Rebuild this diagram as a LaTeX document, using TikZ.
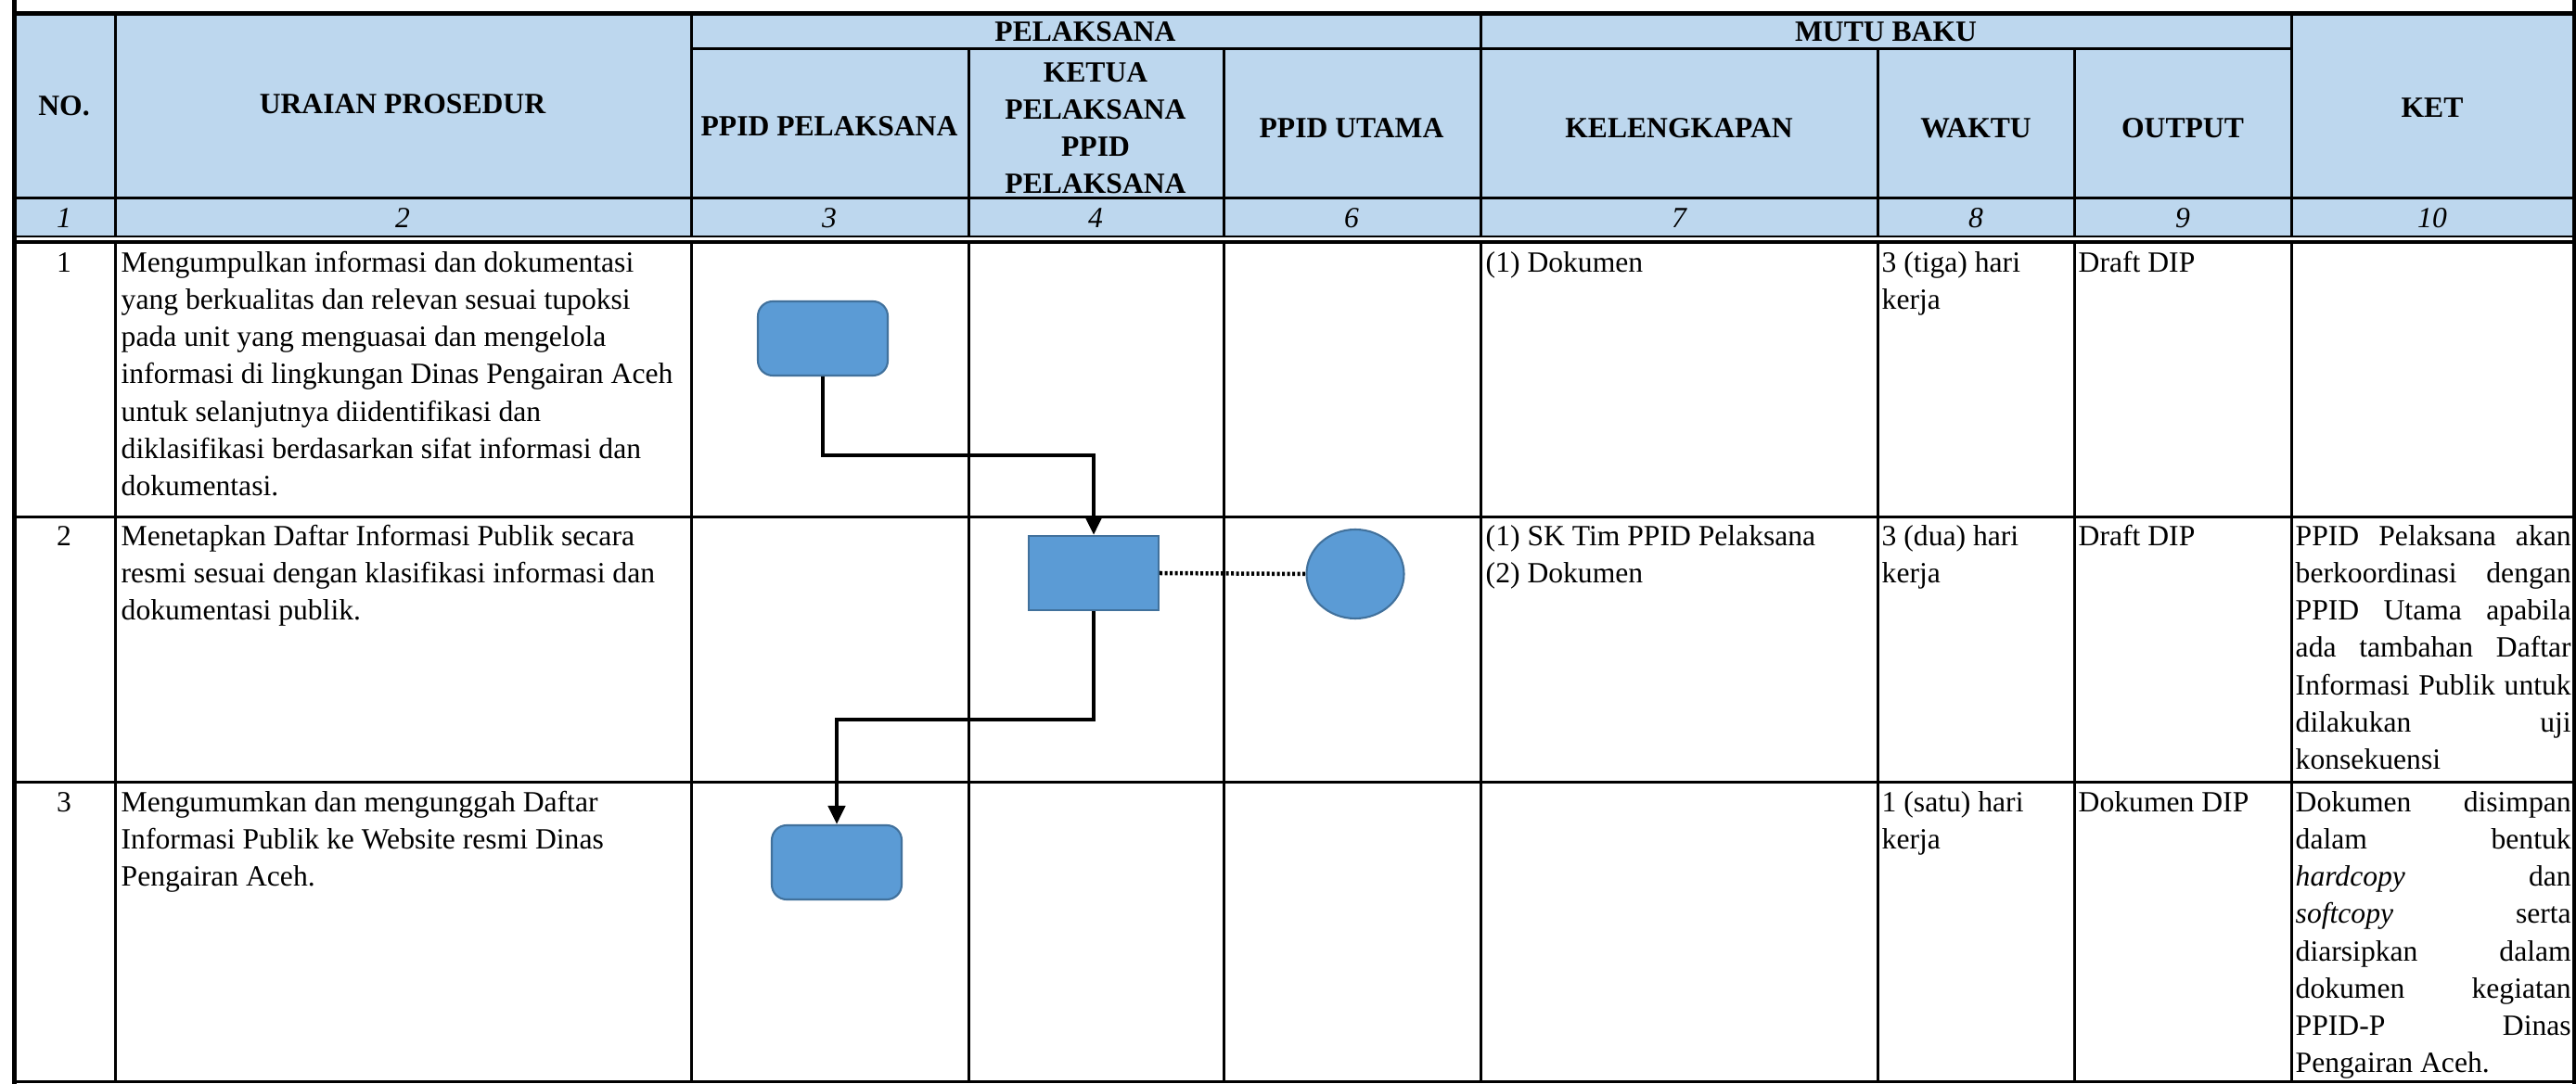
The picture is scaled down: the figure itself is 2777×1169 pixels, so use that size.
\documentclass[tikz,border=0pt]{standalone}
\usepackage{fontspec}
\setmainfont{Liberation Serif}
\usetikzlibrary{arrows.meta,shapes.geometric}

\definecolor{headblue}{HTML}{BDD7EE}
\definecolor{shapeblue}{HTML}{5B9BD5}
\definecolor{shapeedge}{HTML}{41719C}

\newcommand{\ketline}[1]{\makebox[29.7mm][s]{#1}}

\begin{document}
\begin{tikzpicture}[x = 0.1mm, y = -0.1mm,
    every node/.style = {font = \fontsize{9pt}{11.4pt}\selectfont, inner sep = 0pt},
    head/.style = {align = center, font = \fontsize{9pt}{11.4pt}\selectfont\bfseries},
    colnum/.style = {font = \fontsize{9pt}{11.4pt}\selectfont\itshape},
    cell/.style = {anchor = north west, align = left},
    num/.style = {anchor = north},
    grid/.style = {line width = 0.3mm},
    border/.style = {line width = 0.5mm},
    task/.style = {draw = shapeedge, fill = shapeblue, line width = 0.6pt, minimum width = 14mm, minimum height = 8mm},
    flow/.style = {line width = 0.45mm, -{Triangle[length = 2mm, width = 1.8mm]}}]
    \useasboundingbox (0, 0) rectangle (2777, 1169);
    \fill[headblue] (15, 15) rectangle (2775, 255);

    \draw[grid] (124, 15) -- (124, 1166);
    \draw[grid] (745, 15) -- (745, 1166);
    \draw[grid] (1044, 53) -- (1044, 1166);
    \draw[grid] (1319, 53) -- (1319, 1166);
    \draw[grid] (1596, 15) -- (1596, 1166);
    \draw[grid] (2024, 53) -- (2024, 1166);
    \draw[grid] (2236, 53) -- (2236, 1166);
    \draw[grid] (2470, 15) -- (2470, 1166);
    \fill[white] (17, 256) rectangle (2773, 259.5);
    \draw[grid] (745, 53) -- (2470, 53);
    \draw[grid] (15, 214) -- (2775, 214);
    \draw[line width = 0.15mm] (15, 255) -- (2775, 255);
    \draw[line width = 0.35mm] (15, 261) -- (2775, 261);
    \draw[grid] (15, 558) -- (2775, 558);
    \draw[grid] (15, 844) -- (2775, 844);
    \draw[grid] (15, 1166) -- (2775, 1166);
    \draw[border] (15, 0) -- (15, 1169);
    \draw[border] (2775, 0) -- (2775, 1169);
    \draw[border] (15, 15) -- (2775, 15);

    \node[head] (no head) at (69, 114) {NO.};
    \node[head] (uraian head) at (434, 112) {URAIAN PROSEDUR};
    \node[head] (pelaksana head) at (1170, 34) {PELAKSANA};
    \node[head] (mutu head) at (2033, 34) {MUTU BAKU};
    \node[head] (ppidp head) at (894, 136) {PPID PELAKSANA};
    \node[head] (ketua head) at (1181, 138) {KETUA\\PELAKSANA\\PPID\\PELAKSANA};
    \node[head] (ppidu head) at (1457, 138) {PPID UTAMA};
    \node[head] (kelengkapan head) at (1810, 138) {KELENGKAPAN};
    \node[head] (waktu head) at (2130, 138) {WAKTU};
    \node[head] (output head) at (2353, 138) {OUTPUT};
    \node[head] (ket head) at (2622, 116) {KET};

    \node[colnum] (col 1) at (69, 235) {1};
    \node[colnum] (col 2) at (434, 235) {2};
    \node[colnum] (col 3) at (894, 235) {3};
    \node[colnum] (col 4) at (1181, 235) {4};
    \node[colnum] (col 6) at (1457, 235) {6};
    \node[colnum] (col 7) at (1810, 235) {7};
    \node[colnum] (col 8) at (2130, 235) {8};
    \node[colnum] (col 9) at (2353, 235) {9};
    \node[colnum] (col 10) at (2622, 235) {10};

    \node[num] (no 1) at (69, 265) {\strut 1};
    \node[cell] (uraian 1) at (130, 265) {\strut Mengumpulkan informasi dan dokumentasi\\yang berkualitas dan relevan sesuai tupoksi\\pada unit yang menguasai dan mengelola\\informasi di lingkungan Dinas Pengairan Aceh\\untuk selanjutnya diidentifikasi dan\\diklasifikasi berdasarkan sifat informasi dan\\dokumentasi.};
    \node[cell] (kelengkapan 1) at (1601, 265) {\strut (1) Dokumen};
    \node[cell] (waktu 1) at (2028, 265) {\strut 3 (tiga) hari\\kerja};
    \node[cell] (output 1) at (2240, 265) {\strut Draft DIP};

    \node[num] (no 2) at (69, 560) {\strut 2};
    \node[cell] (uraian 2) at (130, 560) {\strut Menetapkan Daftar Informasi Publik secara\\resmi sesuai dengan klasifikasi informasi dan\\dokumentasi publik.};
    \node[cell] (kelengkapan 2) at (1601, 560) {\strut (1) SK Tim PPID Pelaksana\\(2) Dokumen};
    \node[cell] (waktu 2) at (2028, 560) {\strut 3 (dua) hari\\kerja};
    \node[cell] (output 2) at (2240, 560) {\strut Draft DIP};
    \node[cell] (ket 2) at (2474, 560) {\strut\ketline{PPID Pelaksana akan}\\\ketline{berkoordinasi dengan}\\\ketline{PPID Utama apabila}\\\ketline{ada tambahan Daftar}\\\ketline{Informasi Publik untuk}\\\ketline{dilakukan uji}\\konsekuensi};

    \node[num] (no 3) at (69, 847) {\strut 3};
    \node[cell] (uraian 3) at (130, 847) {\strut Mengumumkan dan mengunggah Daftar\\Informasi Publik ke Website resmi Dinas\\Pengairan Aceh.};
    \node[cell] (waktu 3) at (2028, 847) {\strut 1 (satu) hari\\kerja};
    \node[cell] (output 3) at (2240, 847) {\strut Dokumen DIP};
    \node[cell] (ket 3) at (2474, 847) {\strut\ketline{Dokumen disimpan}\\\ketline{dalam bentuk}\\\ketline{\textit{hardcopy} dan}\\\ketline{\textit{softcopy} serta}\\\ketline{diarsipkan dalam}\\\ketline{dokumen kegiatan}\\\ketline{PPID-P Dinas}\\Pengairan Aceh.};

    \node[task, rounded corners = 1.6mm] (collect) at (887, 365) {};
    \node[task] (set list) at (1179, 618) {};
    \node[ellipse, draw = shapeedge, fill = shapeblue, line width = 0.6pt, minimum width = 10.5mm, minimum height = 9.6mm] (utama) at (1461, 619) {};
    \node[task, rounded corners = 1.6mm] (publish) at (902, 930) {};
    \coordinate (bend 1) at (887, 491);
    \coordinate (bend 2) at (1179, 776);
    \draw[flow] (collect.south) -- (bend 1) -| (set list.north);
    \draw[flow] (set list.south) -- (bend 2) -| (publish.north);
    \draw[line width = 0.45mm, dash pattern = on 0.3mm off 0.25mm] (set list.east) -- (utama.west);
\end{tikzpicture}
\end{document}
